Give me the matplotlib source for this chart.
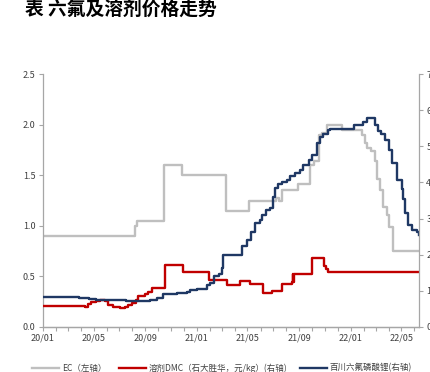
import matplotlib
matplotlib.use("Agg")
import matplotlib.pyplot as plt
import pandas as pd

plt.rcParams['font.family'] = ['Noto Sans CJK SC', 'DejaVu Sans']

# EC price (left axis)
ec_dates = ["2020-01-01", "2020-08-08", "2020-08-12", "2020-10-15", "2020-11-27", "2021-03-12",
            "2021-05-05", "2021-07-08", "2021-07-14", "2021-07-22", "2021-08-28", "2021-09-26",
            "2021-10-07", "2021-10-18", "2021-10-24", "2021-11-05", "2021-12-11", "2022-01-28",
            "2022-02-04", "2022-02-09", "2022-02-18", "2022-02-28", "2022-03-04", "2022-03-12",
            "2022-03-18", "2022-03-28", "2022-04-03", "2022-04-11", "2022-06-13"]
ec_vals = [0.90, 1.00, 1.05, 1.60, 1.50, 1.15,
           1.25, 1.27, 1.25, 1.35, 1.41, 1.60,
           1.64, 1.90, 1.92, 2.00, 1.95, 1.90,
           1.82, 1.77, 1.74, 1.64, 1.46, 1.35,
           1.19, 1.11, 0.99, 0.75, 0.75]

# DMC price (right axis)
dmc_dates = ["2020-01-01", "2020-03-05", "2020-04-10", "2020-04-17", "2020-04-25", "2020-05-07",
             "2020-05-15", "2020-05-27", "2020-06-04", "2020-06-16", "2020-07-02", "2020-07-14",
             "2020-07-22", "2020-07-30", "2020-08-09", "2020-08-15", "2020-08-31", "2020-09-08",
             "2020-09-16", "2020-10-17", "2020-11-29", "2021-01-29", "2021-03-14", "2021-04-13",
             "2021-05-06", "2021-06-07", "2021-06-28", "2021-07-21", "2021-08-14", "2021-08-17",
             "2021-08-18", "2021-08-20", "2021-10-01", "2021-10-30", "2021-11-03", "2021-11-08",
             "2022-06-13"]
dmc_vals = [0.59, 0.57, 0.56, 0.64, 0.70, 0.73,
            0.76, 0.73, 0.62, 0.56, 0.53, 0.56,
            0.62, 0.67, 0.76, 0.87, 0.92, 0.98,
            1.09, 1.71, 1.51, 1.30, 1.16, 1.26,
            1.20, 0.95, 0.99, 1.20, 1.25, 1.46,
            1.25, 1.47, 1.90, 1.68, 1.60, 1.51,
            1.51]

# LiPF6 price (right axis)
lipf6_dates = ["2020-01-01", "2020-03-28", "2020-04-21", "2020-05-06", "2020-07-17", "2020-08-31",
               "2020-09-12", "2020-09-28", "2020-10-13", "2020-10-29", "2020-11-14", "2020-12-08",
               "2020-12-16", "2021-01-02", "2021-01-17", "2021-01-25", "2021-02-02", "2021-02-10",
               "2021-02-22", "2021-03-01", "2021-03-04", "2021-04-19", "2021-04-29", "2021-05-10",
               "2021-05-18", "2021-05-30", "2021-06-04", "2021-06-15", "2021-06-23", "2021-07-01",
               "2021-07-05", "2021-07-13", "2021-07-21", "2021-08-02", "2021-08-10", "2021-08-22",
               "2021-09-03", "2021-09-11", "2021-09-23", "2021-10-01", "2021-10-12", "2021-10-20",
               "2021-10-28", "2021-11-09", "2021-11-14", "2022-01-08", "2022-01-31", "2022-02-09",
               "2022-02-28", "2022-03-07", "2022-03-15", "2022-03-23", "2022-04-01", "2022-04-09",
               "2022-04-21", "2022-05-02", "2022-05-06", "2022-05-10", "2022-05-18", "2022-05-26",
               "2022-06-07", "2022-06-13"]
lipf6_vals = [0.84, 0.81, 0.78, 0.74, 0.73, 0.71,
              0.76, 0.81, 0.90, 0.92, 0.95, 0.98,
              1.01, 1.05, 1.06, 1.15, 1.23, 1.41,
              1.48, 1.62, 1.99, 2.24, 2.41, 2.63,
              2.88, 2.97, 3.11, 3.25, 3.30, 3.61,
              3.84, 3.95, 4.00, 4.07, 4.17, 4.26,
              4.34, 4.48, 4.62, 4.76, 5.10, 5.26,
              5.35, 5.46, 5.49, 5.60, 5.68, 5.77,
              5.60, 5.43, 5.35, 5.18, 4.90, 4.54,
              4.07, 3.81, 3.53, 3.16, 2.83, 2.69,
              2.63, 2.55]

x_labels = ["20/01", "20/05", "20/09", "21/01", "21/05", "21/09", "22/01", "22/05"]
legend_labels = ["EC（左轴）", "溶剂DMC（石大胜华，元/kg）(右轴)", "百川六氟磷酸锂(右轴)"]
title = "表 六氟及溶剂价格走势"

fig = plt.figure(figsize=(4.31, 3.72), dpi=100)
ax = fig.add_axes([0.099, 0.121, 0.874, 0.680])
ax2 = ax.twinx()

c_ec, c_dmc, c_li = "#BFBFBF", "#C00000", "#1F3864"
l1, = ax.step(pd.to_datetime(ec_dates), ec_vals, where="post", color=c_ec, lw=1.7)
l2, = ax2.step(pd.to_datetime(dmc_dates), dmc_vals, where="post", color=c_dmc, lw=1.7)
l3, = ax2.step(pd.to_datetime(lipf6_dates), lipf6_vals, where="post", color=c_li, lw=1.7)

ax.set_ylim(0, 2.5)
ax2.set_ylim(0, 7)
ax.set_xlim(pd.Timestamp("2020-01-01"), pd.Timestamp("2022-06-13"))
ax.set_yticks([0, 0.5, 1.0, 1.5, 2.0, 2.5])
ax.set_yticklabels(["0.0", "0.5", "1.0", "1.5", "2.0", "2.5"])
ax2.set_yticks(range(0, 8))

months = pd.date_range("2020-01-01", "2022-06-01", freq="MS")
ax.set_xticks(months)
lab = []
for d in months:
    s = d.strftime("%y/%m")
    lab.append(s if s in x_labels else "")
ax.set_xticklabels(lab)

spine_c = "#A6A6A6"
txt_c = "#404040"
for a in (ax, ax2):
    a.spines["top"].set_visible(False)
    for s in ("left", "right", "bottom"):
        a.spines[s].set_color(spine_c)
        a.spines[s].set_linewidth(0.9)
    a.tick_params(axis="both", colors=spine_c, labelcolor=txt_c, labelsize=6.5,
                  length=3, width=0.8, direction="out", pad=2)
ax.spines["right"].set_visible(False)
ax2.spines["left"].set_visible(False)

fig.text(0.058, 0.975, title, fontsize=13.5, fontweight="bold", ha="left", va="center", color="#000000")

leg = fig.legend([l1, l2, l3], legend_labels, loc="center", ncol=3, frameon=False, fontsize=6.1,
                 handlelength=3.2, columnspacing=1.5, handletextpad=0.3, labelcolor=txt_c)
leg.set_bbox_to_anchor((0.515, 1 - 368 / 372), transform=fig.transFigure)

fig.savefig("out.png", dpi=100)
